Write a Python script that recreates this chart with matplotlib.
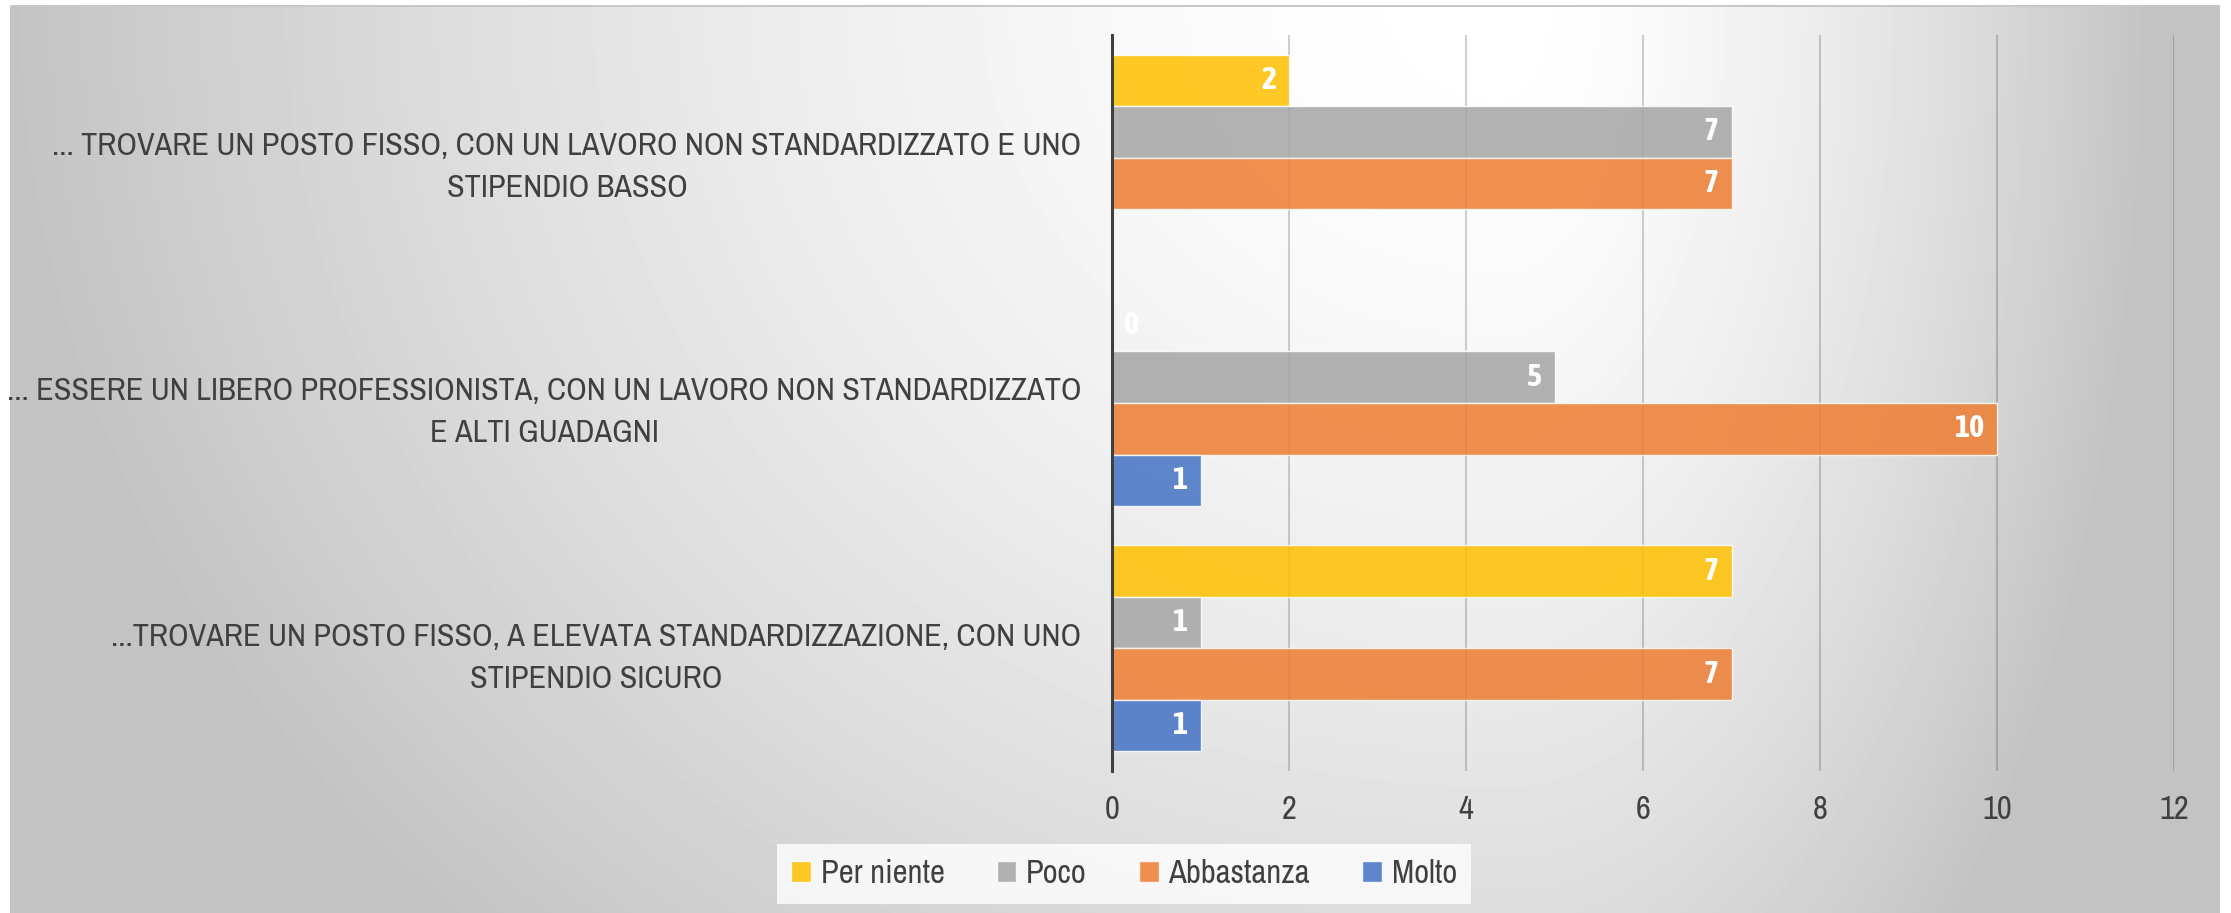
import numpy as np
import matplotlib
matplotlib.use("Agg")
import matplotlib.pyplot as plt
from matplotlib import font_manager

# data
categories = [
    "... TROVARE UN POSTO FISSO, CON UN LAVORO NON STANDARDIZZATO E UNO\nSTIPENDIO BASSO",
    "... ESSERE UN LIBERO PROFESSIONISTA, CON UN LAVORO NON STANDARDIZZATO\nE ALTI GUADAGNI",
    "...TROVARE UN POSTO FISSO, A ELEVATA STANDARDIZZAZIONE, CON UNO\nSTIPENDIO SICURO",
]
series_names = ["Per niente", "Poco", "Abbastanza", "Molto"]
per_niente = [2, 0, 7]
poco = [7, 5, 1]
abbastanza = [7, 10, 7]
molto = [np.nan, 1, 1]  # no value for the first answer
x_ticks = [0, 2, 4, 6, 8, 10, 12]

colors = ["#FFC000", "#A5A5A5", "#ED7D31", "#4472C4"]
text_col = "#404040"

# pick a narrow font if there is one (the original uses Calibri)
fonts = font_manager.fontManager.ttflist
fam = "Lato"
narrow = sorted({f.name for f in fonts
                 if "Narrow" in f.name or "Condensed" in f.name or f.stretch in ("condensed", "semi-condensed")})
if narrow:
    fam = narrow[0]
plt.rcParams["font.family"] = [fam, "DejaVu Sans"]

# upright bold face for the data labels
def bold_ok(name):
    for f in fonts:
        if f.name == name and f.style == "normal":
            w = f.weight if isinstance(f.weight, int) else {"bold": 700}.get(f.weight, 400)
            if w >= 600:
                return True
    return False

label_fam = fam
if not bold_ok(fam):
    bolds = [n for n in narrow if bold_ok(n)]
    label_fam = bolds[0] if bolds else "Lato"

W, H = 2231, 913
fig = plt.figure(figsize=(W / 100, H / 100), dpi=100)

# gradient background (excel style)
bg = fig.add_axes([0, 0, 1, 1], zorder=-5)
xx, yy = np.meshgrid(np.arange(W), np.arange(H))
rx = np.where(xx < 1500, 1500.0, 650.0)
r = np.sqrt(((xx - 1500) / rx) ** 2 + (yy / 1300.0) ** 2)
val = (255 - 60 * np.minimum(r, 1.0) ** 1.6) / 255.0
val[:, :10] = 1.0
val[:, 2220:] = 1.0
val[:5, :] = 1.0
val[5:7, 10:2220] = 0.78
bg.imshow(val, cmap="gray", vmin=0, vmax=1, extent=(0, W, H, 0), aspect="auto", interpolation="bilinear")
bg.set_xlim(0, W)
bg.set_ylim(H, 0)
bg.axis("off")

ax = fig.add_axes([1112 / W, 1 - 771 / H, (2174 - 1112) / W, (771 - 35) / H])
ax.set_facecolor("none")

fs = 23.5
h = 0.21
ypos = np.arange(len(categories))[::-1]  # first category on top
all_series = [per_niente, poco, abbastanza, molto]
offsets = [1.5 * h, 0.5 * h, -0.5 * h, -1.5 * h]

handles = []
for vals, name, col, off in zip(all_series, series_names, colors, offsets):
    vals = np.array(vals, dtype=float)
    bars = ax.barh(ypos + off, vals, height=h, color=col, alpha=0.85,
                   edgecolor=(1, 1, 1, 0.6), linewidth=1, label=name, zorder=3)
    handles.append(bars)
    for yv, v in zip(ypos + off, vals):
        if np.isnan(v):
            continue
        if v > 0:
            ax.annotate(str(int(v)), (v, yv), xytext=(-13, 0), textcoords="offset pixels",
                        ha="right", va="center", color="white", fontsize=23, fontstyle="normal",
                        fontweight="bold", family=label_fam, zorder=4)
        else:
            ax.annotate(str(int(v)), (v, yv), xytext=(12, 0), textcoords="offset pixels",
                        ha="left", va="center", color="white", fontsize=23, fontstyle="normal",
                        fontweight="bold", family=label_fam, zorder=4)

ax.set_xlim(0, 12)
ax.set_ylim(-0.5, 2.5)
ax.set_xticks(x_ticks)
ax.set_xticklabels([str(t) for t in x_ticks], fontsize=fs, color=text_col)
ax.set_yticks(ypos)
ax.set_yticklabels(categories, fontsize=21, color=text_col)
for lab in ax.get_yticklabels():
    lab.set_multialignment("center")
    lab.set_linespacing(1.45)
ax.tick_params(axis="both", length=0)
ax.tick_params(axis="x", pad=17)
ax.tick_params(axis="y", pad=22)

ax.grid(axis="x", color="black", alpha=0.18, linewidth=1.5, zorder=1)
ax.set_axisbelow(True)
for s in ["top", "right", "bottom"]:
    ax.spines[s].set_visible(False)
ax.spines["left"].set_color(text_col)
ax.spines["left"].set_linewidth(2.2)
ax.spines["left"].set_zorder(5)

# fit the long category labels to the width they take in the original
fig.canvas.draw()
widest = max(lab.get_window_extent().width for lab in ax.get_yticklabels())
cat_fs = min(21 * 1070 / widest, 26)
for lab in ax.get_yticklabels():
    lab.set_fontsize(cat_fs)
    lab.set_linespacing(1.22 * max(1.2, 1.45 * 21 / cat_fs))

leg = fig.legend(handles=handles, labels=series_names, loc="center",
                 bbox_to_anchor=(1124 / W, 1 - 874 / H), ncol=4, fontsize=fs,
                 frameon=True, handlelength=0.6, handleheight=0.6, handletextpad=0.3,
                 columnspacing=1.6, borderpad=0.45, fancybox=False)
leg.get_frame().set_facecolor((1, 1, 1, 0.45))
leg.get_frame().set_edgecolor("none")
for t in leg.get_texts():
    t.set_color(text_col)

fig.savefig("out.png", dpi=100)
